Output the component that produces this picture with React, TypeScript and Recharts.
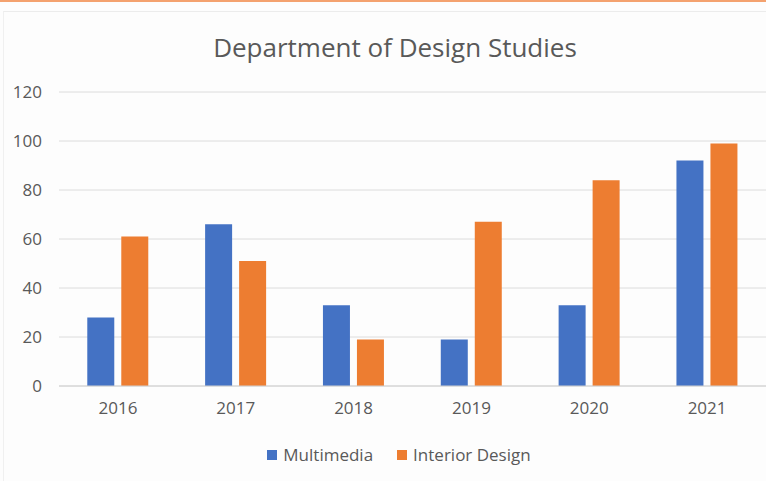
import { BarChart, Bar, XAxis, YAxis, CartesianGrid, Legend } from "recharts";

const years = ["2016", "2017", "2018", "2019", "2020", "2021"];
const multimedia = [28, 66, 33, 19, 33, 92];
const interiorDesign = [61, 51, 19, 67, 84, 99];
const yTicks = [0, 20, 40, 60, 80, 100, 120];

const data = years.map((year, i) => ({
  year,
  multimedia: multimedia[i],
  interior: interiorDesign[i],
}));

const series = [
  { key: "multimedia", name: "Multimedia", color: "#4472c4" },
  { key: "interior", name: "Interior Design", color: "#ed7d31" },
];

const FONT = "'Open Sans', sans-serif";
const TEXT = "#595959";

function LegendRow() {
  return (
    <div
      style={{
        display: "flex",
        justifyContent: "center",
        gap: 24,
        paddingLeft: 32,
        marginTop: -2,
        fontSize: 17,
        lineHeight: "24px",
        fontFamily: FONT,
        color: TEXT,
      }}
    >
      {series.map((s) => (
        <span key={s.key} style={{ display: "flex", alignItems: "center" }}>
          <span style={{ width: 10, height: 10, background: s.color, marginRight: 6, display: "inline-block" }} />
          {s.name}
        </span>
      ))}
    </div>
  );
}

export default function App() {
  return (
    <div
      style={{
        position: "absolute",
        left: 0,
        top: 0,
        width: 766,
        height: 481,
        background: "#fdfdfd",
        fontFamily: FONT,
        overflow: "hidden",
      }}
    >
      <div style={{ position: "absolute", left: 0, top: 0, width: 766, height: 2, background: "#f4a26f" }} />
      <div
        style={{
          position: "absolute",
          left: 3,
          top: 11,
          width: 770,
          height: 480,
          borderTop: "1px solid #ececec",
          borderLeft: "1px solid #f0f0f0",
        }}
      />
      <div
        style={{
          position: "absolute",
          top: 29,
          left: 12,
          width: 766,
          textAlign: "center",
          fontSize: 26,
          color: TEXT,
          lineHeight: "36px",
        }}
      >
        Department of Design Studies
      </div>
      <div style={{ position: "absolute", left: 0, top: 0 }}>
        <BarChart
          width={766}
          height={481}
          data={data}
          margin={{ top: 92, right: 0, bottom: 12, left: 0 }}
          barCategoryGap="24%"
          barGap={7}
        >
          <CartesianGrid vertical={false} stroke="#dcdcdc" />
          <XAxis
            dataKey="year"
            height={59}
            tickLine={false}
            axisLine={{ stroke: "#d0d0d0" }}
            tickMargin={10}
            tick={{ fontSize: 17, fill: TEXT, fontFamily: FONT }}
          />
          <YAxis
            width={59}
            domain={[0, 120]}
            ticks={yTicks}
            tickLine={false}
            axisLine={false}
            tickMargin={11}
            tick={{ fontSize: 17, fill: TEXT, fontFamily: FONT }}
          />
          <Legend verticalAlign="bottom" height={24} content={() => <LegendRow />} />
          {series.map((s) => (
            <Bar key={s.key} dataKey={s.key} name={s.name} fill={s.color} isAnimationActive={false} />
          ))}
        </BarChart>
      </div>
    </div>
  );
}
